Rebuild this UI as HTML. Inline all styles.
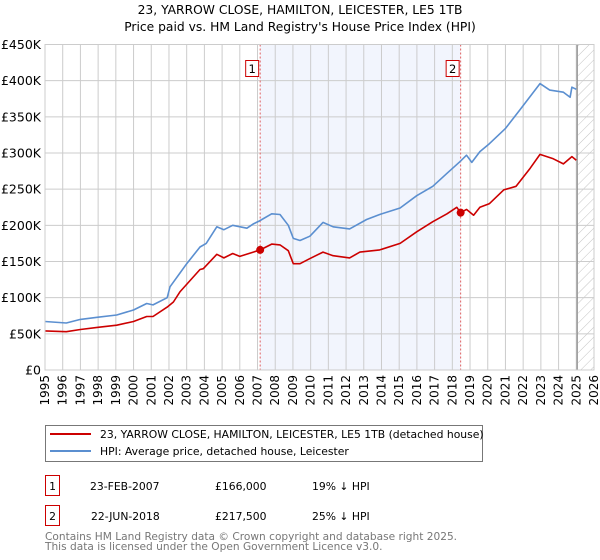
<!DOCTYPE html>
<html><head><meta charset="utf-8"><style>
body{margin:0;background:#fff;}
svg{display:block;font-family:"DejaVu Sans","Liberation Sans",sans-serif;}
</style></head><body>
<svg id="chart" width="600" height="560" xmlns="http://www.w3.org/2000/svg">
<defs><pattern id="hatch" width="7" height="7" patternUnits="userSpaceOnUse" patternTransform="rotate(45)"><line x1="0" y1="0" x2="0" y2="7" stroke="#c4c4c4" stroke-width="1"/></pattern></defs>
<text x="300" y="14" text-anchor="middle" font-size="12.3">23, YARROW CLOSE, HAMILTON, LEICESTER, LE5 1TB</text>
<text x="300" y="31" text-anchor="middle" font-size="12.3">Price paid vs. HM Land Registry's House Price Index (HPI)</text>
<g id="plot"></g>
<g>
<rect x="45.5" y="425.5" width="437" height="36" fill="#fff" stroke="#777"/>
<line x1="50" y1="434" x2="91" y2="434" stroke="#cc0000" stroke-width="2"/>
<text x="100" y="438" font-size="10.8">23, YARROW CLOSE, HAMILTON, LEICESTER, LE5 1TB (detached house)</text>
<line x1="50" y1="451" x2="91" y2="451" stroke="#5b8fd0" stroke-width="2"/>
<text x="100" y="455" font-size="10.8">HPI: Average price, detached house, Leicester</text>
</g>
<g font-size="10.8">
<rect x="45.5" y="475.5" width="14" height="20" fill="#fff" stroke="#cc0000"/>
<text x="52.5" y="490" text-anchor="middle">1</text>
<text x="90" y="490">23-FEB-2007</text><text x="215" y="490">£166,000</text><text x="312" y="490">19% ↓ HPI</text>
<rect x="45.5" y="505.5" width="14" height="20" fill="#fff" stroke="#cc0000"/>
<text x="52.5" y="520" text-anchor="middle">2</text>
<text x="91" y="520">22-JUN-2018</text><text x="215" y="520">£217,500</text><text x="312" y="520">25% ↓ HPI</text>
</g>
<text x="45" y="540" font-size="10.6" fill="#777">Contains HM Land Registry data © Crown copyright and database right 2025.</text>
<text x="45" y="550" font-size="10.6" fill="#777">This data is licensed under the Open Government Licence v3.0.</text>
</svg>
<script>
const yTicks=[0,50,100,150,200,250,300,350,400,450];
const yTickLabels=["£0","£50K","£100K","£150K","£200K","£250K","£300K","£350K","£400K","£450K"];
const years=[1995,1996,1997,1998,1999,2000,2001,2002,2003,2004,2005,2006,2007,2008,2009,2010,2011,2012,2013,2014,2015,2016,2017,2018,2019,2020,2021,2022,2023,2024,2025,2026];
const hpiYears=[1995,1996.2,1997,1998,1999.05,2000,2000.74,2001.1,2001.9,2002.06,2002.62,2003,2003.75,2004.1,2004.7,2005.1,2005.6,2006.4,2006.76,2007.1,2007.8,2008.27,2008.74,2009.02,2009.4,2009.96,2010.7,2011.27,2012.2,2013.16,2013.9,2015.05,2015.99,2016.9,2017.7,2018.43,2018.8,2019.1,2019.56,2020.1,2021.0,2021.8,2022.95,2023.5,2024.27,2024.65,2024.75,2025.0];
const hpiValues=[67,65,70,73,76,83,92,90,100,115,134,147,170,175,198,194,200,196,202,206,216,215,200,182,179,185,204,198,195,208,215,224,241,254,272,288,297,287,302,313,334,359,396,387,384,377,391,388];
const redYears=[1995,1996.2,1997,1998,1999.05,2000,2000.74,2001.1,2001.9,2002.25,2002.62,2003.75,2003.94,2004.7,2005.1,2005.6,2006,2006.76,2007.15,2007.8,2008.27,2008.74,2009.02,2009.4,2009.96,2010.7,2011.27,2012.2,2012.78,2013.9,2015.05,2015.99,2016.9,2017.7,2018.25,2018.47,2018.8,2019.2,2019.56,2020.1,2020.9,2021.6,2022.4,2022.95,2023.7,2024.27,2024.75,2025.0];
const redValues=[54,53,56,59,62,67,74,74,87,94,108,139,140,160,155,161,157,163,166,174,173,165,147,147,154,163,158,155,163,166,175,191,205,216,225,217.5,222,214,225,230,249,254,279,298,292,285,295,290];
const saleYears=[2007.15,2018.47];
const saleValues=[166,217.5];
const saleLabels=["1","2"];

const NS="http://www.w3.org/2000/svg";
const L=45,R=594,T=44.5,B=370,Y0=1995,Y1=2026,VMAX=450;
const xs=y=>L+(y-Y0)/(Y1-Y0)*(R-L);
const ys=v=>B-v/VMAX*(B-T);
const g=document.getElementById('plot');
function mk(tag,attrs){const e=document.createElementNS(NS,tag);for(const k in attrs)e.setAttribute(k,attrs[k]);g.appendChild(e);return e;}
let sh=mk('rect',{x:xs(saleYears[0]),y:T,width:xs(saleYears[1])-xs(saleYears[0]),height:B-T,fill:'#eef2fc',opacity:0.75});


let ht=mk('rect',{x:xs(2025.1),y:T,width:R-xs(2025.1),height:B-T,fill:'url(#hatch)'});


years.forEach(yr=>{const l=mk('line',{x1:xs(yr),x2:xs(yr),y1:T,y2:B,stroke:'#ccc','stroke-width':1});


const t=mk('text',{x:0,y:0,'font-size':12,'text-anchor':'end',transform:`translate(${xs(yr)+4},${B+5}) rotate(-90)`});t.textContent=yr;

});
yTicks.forEach((v,i)=>{const l=mk('line',{x1:L,x2:R,y1:ys(v),y2:ys(v),stroke:'#ccc','stroke-width':1});


const t=mk('text',{x:L-4,y:ys(v)+4.5,'font-size':12.5,'text-anchor':'end'});t.textContent=yTickLabels[i];

});
let nl=mk('line',{x1:xs(2025.05),x2:xs(2025.05),y1:T,y2:B,stroke:'#888','stroke-width':1.2});


saleYears.forEach((yr,i)=>{const l=mk('line',{x1:xs(yr),x2:xs(yr),y1:T,y2:B,stroke:'#e06060','stroke-width':1,'stroke-dasharray':'2,2'});


const b=mk('rect',{x:xs(yr)-14.5,y:60.5,width:13,height:16,fill:'#fff',stroke:'#cc0000'});


const t=mk('text',{x:xs(yr)-8,y:73,'font-size':11.5,'text-anchor':'middle'});t.textContent=saleLabels[i];

});
function path(xa,va,col,name){const d=xa.map((y,i)=>(i?'L':'M')+xs(y).toFixed(1)+','+ys(va[i]).toFixed(1)).join('');
const p=mk('path',{d:d,fill:'none',stroke:col,'stroke-width':1.6,'stroke-linejoin':'round'});

}
path(hpiYears,hpiValues,'#5b8fd0','hpi-line');
path(redYears,redValues,'#cc0000','property-price-line');
saleYears.forEach((yr,i)=>{const c=mk('circle',{cx:xs(yr),cy:ys(saleValues[i]),r:4,fill:'#cc0000'});

});
let ax=mk('rect',{x:L,y:T,width:R-L,height:B-T,fill:'none',stroke:'#ccc'});


</script>
</body></html>
